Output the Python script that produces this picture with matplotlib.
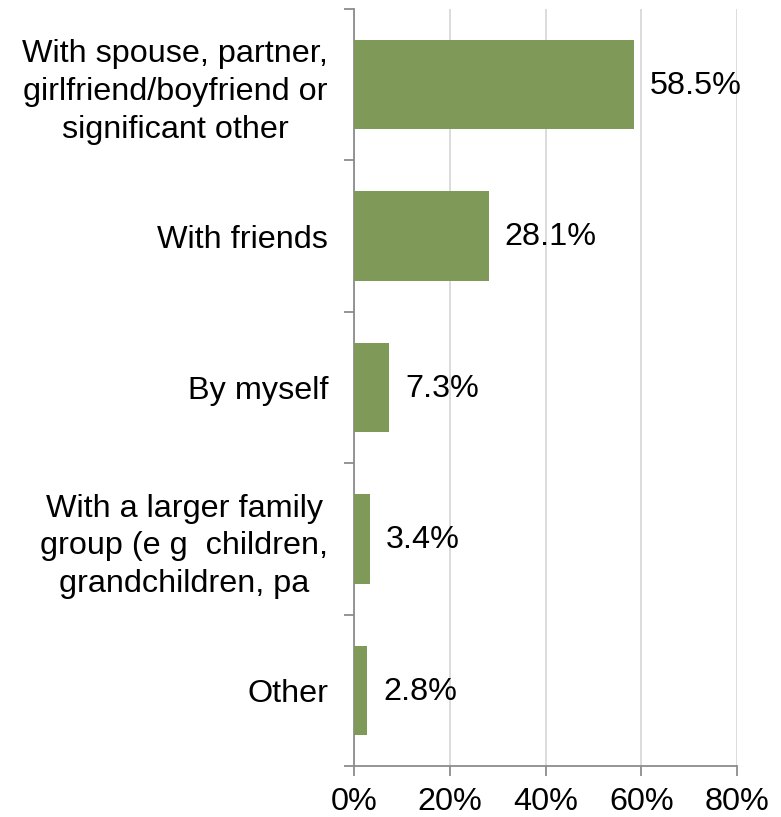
import numpy as np
import matplotlib
matplotlib.use('Agg')
from matplotlib import pyplot as plt
from matplotlib.ticker import FixedLocator, PercentFormatter

categories = [
    'With spouse, partner,\ngirlfriend/boyfriend or\nsignificant other',
    'With friends',
    'By myself',
    'With a larger family\ngroup (e g  children,\ngrandchildren, pa',
    'Other',
]
shares = [58.5, 28.1, 7.3, 3.4, 2.8]

bar_color = '#7f9a58'
axis_grey = '#8c8c8c'
fsize = 23.3

plt.rcParams['font.family'] = ['Liberation Sans', 'DejaVu Sans']

fig = plt.figure(figsize=(7.81, 8.17), dpi=100)
ax = fig.add_axes([0.4533, 0.0624, 0.4904, 0.9266])

y = np.arange(len(categories))
ax.barh(y, shares, height=0.59, color=bar_color, zorder=3)

for yi, v in zip(y, shares):
    ax.annotate('%.1f%%' % v, (v, yi), xytext=(11.5, -1),
                textcoords='offset points', va='center', ha='left',
                fontsize=fsize)

ax.set_xlim(0, 80)
ax.set_ylim(len(categories) - 0.5, -0.5)
ax.set_xticks([0, 20, 40, 60, 80])
ax.xaxis.set_major_formatter(PercentFormatter(decimals=0))
ax.set_yticks(y)
ax.set_yticklabels(categories, fontsize=fsize, multialignment='center',
                   linespacing=1.33)
ax.yaxis.set_minor_locator(FixedLocator(np.arange(-0.5, len(categories), 1)))
ax.tick_params(axis='y', which='major', length=0, pad=18.5)
ax.tick_params(axis='y', which='minor', length=7, color=axis_grey, width=1.3)
ax.tick_params(axis='x', length=7, color=axis_grey, width=1.3,
               labelsize=fsize, pad=8)

ax.grid(axis='x', color='#d9d9d9', linewidth=1.3, zorder=0)
for side in ('top', 'right'):
    ax.spines[side].set_visible(False)
for side in ('left', 'bottom'):
    ax.spines[side].set_color(axis_grey)
    ax.spines[side].set_linewidth(1.3)

fig.savefig('out.png', dpi=100)
